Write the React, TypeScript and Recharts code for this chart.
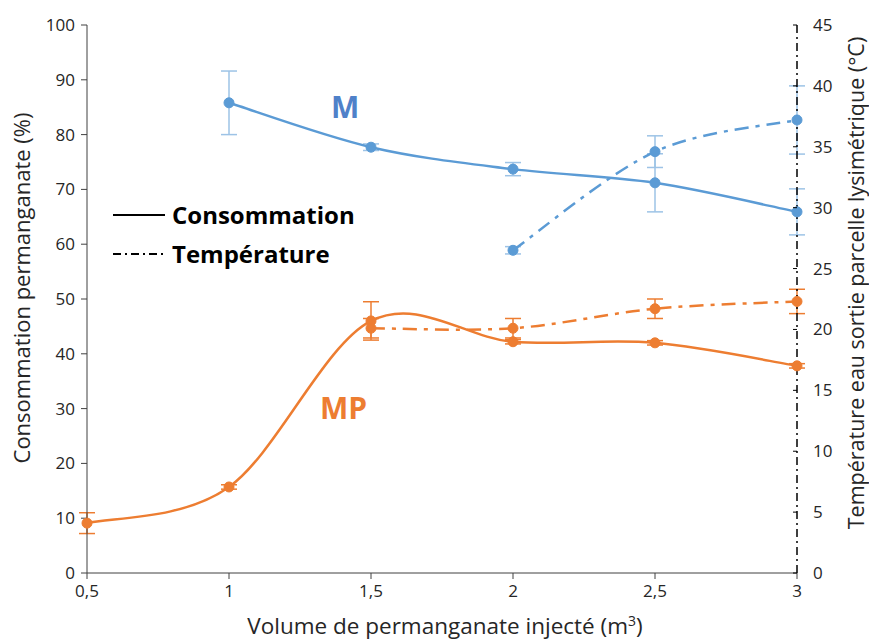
import React from 'react';
import { LineChart, Line, XAxis, YAxis, ErrorBar, Label } from 'recharts';

// Volume injecté (m3)
const volumes = [0.5, 1, 1.5, 2, 2.5, 3];

// M : consommation (%) et température (°C)
const mConso = [null, 85.8, 77.7, 73.7, 71.2, 65.9];
const mConsoErr = [null, 5.8, 0.6, 1.2, 5.3, 4.2];
const mTemp = [null, null, null, 26.5, 34.6, 37.2];
const mTempErr = [null, null, null, 0.3, 1.3, 2.8];

// MP : consommation (%) et température (°C)
const mpConso = [9.1, 15.7, 46.0, 42.2, 42.0, 37.8];
const mpConsoErr = [1.9, 0.4, 3.5, 0.4, 0.4, 0.4];
const mpTemp = [null, null, 20.1, 20.1, 21.7, 22.3];
const mpTempErr = [null, null, 0.8, 0.8, 0.8, 1.0];

const leftTicks = [0, 10, 20, 30, 40, 50, 60, 70, 80, 90, 100];
const rightTicks = [0, 5, 10, 15, 20, 25, 30, 35, 40, 45];

const BLUE = '#5B9BD5';
const BLUE_ERR = '#9DC3E6';
const ORANGE = '#ED7D31';
const FONT = '"Open Sans", "Noto Sans", sans-serif';
const TEXT = '#262626';

const data = volumes.map((v, i) => ({
  volume: v,
  mConso: mConso[i],
  mConsoErr: mConsoErr[i],
  mTemp: mTemp[i],
  mTempErr: mTempErr[i],
  mpConso: mpConso[i],
  mpConsoErr: mpConsoErr[i],
  mpTemp: mpTemp[i],
  mpTempErr: mpTempErr[i],
}));

// Excel-like smoothing (Catmull-Rom through the points)
const smoothCurve = (context: any) => {
  let pts: number[][] = [];
  return {
    areaStart() {},
    areaEnd() {},
    lineStart() {
      pts = [];
    },
    point(x: number, y: number) {
      pts.push([+x, +y]);
    },
    lineEnd() {
      const n = pts.length;
      if (!n) return;
      context.moveTo(pts[0][0], pts[0][1]);
      for (let i = 0; i < n - 1; i++) {
        const p0 = pts[i > 0 ? i - 1 : i];
        const p1 = pts[i];
        const p2 = pts[i + 1];
        const p3 = pts[i + 2 < n ? i + 2 : i + 1];
        context.bezierCurveTo(
          p1[0] + (p2[0] - p0[0]) / 6,
          p1[1] + (p2[1] - p0[1]) / 6,
          p2[0] - (p3[0] - p1[0]) / 6,
          p2[1] - (p3[1] - p1[1]) / 6,
          p2[0],
          p2[1]
        );
      }
    },
  };
};

const RightTick = (props: any) => {
  const { x, y, payload } = props;
  return (
    <g>
      <line x1={x - 20} x2={x - 16} y1={y} y2={y} stroke="#000" strokeWidth={1} />
      <text x={x} y={y} dy={6} fill={TEXT} fontSize={17} fontFamily={FONT} textAnchor="start">
        {payload.value}
      </text>
    </g>
  );
};

const vTitle = (x: number, y: number, text: string, size: number) => () =>
  (
    <text
      x={x}
      y={y}
      transform={`rotate(-90, ${x}, ${y})`}
      textAnchor="middle"
      dominantBaseline="central"
      fontSize={size}
      fill={TEXT}
      fontFamily={FONT}
    >
      {text}
    </text>
  );

export default function App() {
  return (
    <div style={{ position: 'absolute', left: 0, top: 0, width: 869, height: 643, background: '#fff' }}>
      <LineChart
        width={869}
        height={643}
        data={data}
        margin={{ top: 25, right: 0, bottom: 0, left: 0 }}
      >
        <XAxis
          dataKey="volume"
          type="number"
          domain={[0.5, 3]}
          ticks={volumes}
          height={70}
          tickSize={6}
          tickMargin={6}
          stroke="#404040"
          tick={{ fontSize: 17, fill: TEXT, fontFamily: FONT }}
          tickFormatter={(v: number) => String(v).replace('.', ',')}
        >
          <Label
            position="insideBottom"
            content={() => (
              <text x={445} y={634} textAnchor="middle" fontSize={22.5} fill={TEXT} fontFamily={FONT}>
                Volume de permanganate injecté (m
                <tspan dy={-8} fontSize={14}>3</tspan>
                <tspan dy={8}>)</tspan>
              </text>
            )}
          />
        </XAxis>
        <YAxis
          yAxisId="left"
          domain={[0, 100]}
          ticks={leftTicks}
          width={87}
          tickSize={6}
          tickMargin={6}
          stroke="#404040"
          tick={{ fontSize: 17, fill: TEXT, fontFamily: FONT }}
        >
          <Label position="insideLeft" content={vTitle(21, 288, 'Consommation permanganate (%)', 22)} />
        </YAxis>
        <YAxis
          yAxisId="right"
          orientation="right"
          domain={[0, 45]}
          ticks={rightTicks}
          width={72}
          tickSize={0}
          tickMargin={16}
          tickLine={false}
          axisLine={{ stroke: '#000', strokeWidth: 1.5, strokeDasharray: '8 4 2 4' }}
          tick={<RightTick />}
        >
          <Label
            position="insideRight"
            content={vTitle(855, 283, 'Température eau sortie parcelle lysimétrique (°C)', 21.5)}
          />
        </YAxis>

        <Line
          yAxisId="left"
          dataKey="mConso"
          type={smoothCurve as any}
          stroke={BLUE}
          strokeWidth={2.5}
          dot={{ r: 5, fill: BLUE, stroke: BLUE, strokeWidth: 1 }}
          isAnimationActive={false}
        >
          <ErrorBar dataKey="mConsoErr" direction="y" width={8} stroke={BLUE_ERR} strokeWidth={1.5} />
        </Line>
        <Line
          yAxisId="right"
          dataKey="mTemp"
          type={smoothCurve as any}
          stroke={BLUE}
          strokeWidth={2.5}
          strokeDasharray="14 7 4 7"
          dot={{ r: 5, fill: BLUE, stroke: BLUE, strokeWidth: 1, strokeDasharray: '0' }}
          isAnimationActive={false}
        >
          <ErrorBar dataKey="mTempErr" direction="y" width={8} stroke={BLUE_ERR} strokeWidth={1.5} />
        </Line>
        <Line
          yAxisId="left"
          dataKey="mpConso"
          type={smoothCurve as any}
          stroke={ORANGE}
          strokeWidth={2.5}
          dot={{ r: 5, fill: ORANGE, stroke: ORANGE, strokeWidth: 1 }}
          isAnimationActive={false}
        >
          <ErrorBar dataKey="mpConsoErr" direction="y" width={8} stroke={ORANGE} strokeWidth={1.5} />
        </Line>
        <Line
          yAxisId="right"
          dataKey="mpTemp"
          type={smoothCurve as any}
          stroke={ORANGE}
          strokeWidth={2.5}
          strokeDasharray="14 7 4 7"
          dot={{ r: 5, fill: ORANGE, stroke: ORANGE, strokeWidth: 1, strokeDasharray: '0' }}
          isAnimationActive={false}
        >
          <ErrorBar dataKey="mpTempErr" direction="y" width={8} stroke={ORANGE} strokeWidth={1.5} />
        </Line>
      </LineChart>

      {/* annotations and legend */}
      <div style={{ position: 'absolute', left: 331, top: 86, fontSize: 30, fontWeight: 700, color: '#4F81C9', fontFamily: FONT }}>
        M
      </div>
      <div style={{ position: 'absolute', left: 320, top: 387, fontSize: 30, fontWeight: 700, color: ORANGE, fontFamily: FONT }}>
        MP
      </div>
      <svg style={{ position: 'absolute', left: 100, top: 195 }} width={280} height={80}>
        <line x1={13} x2={65} y1={20} y2={20} stroke="#000" strokeWidth={2} />
        <line x1={13} x2={65} y1={59} y2={59} stroke="#000" strokeWidth={2} strokeDasharray="8 4 2 4" />
        <text x={72} y={29} fontSize={24} fontWeight={700} fill="#000" fontFamily={FONT}>
          Consommation
        </text>
        <text x={72} y={68} fontSize={24} fontWeight={700} fill="#000" fontFamily={FONT}>
          Température
        </text>
      </svg>
    </div>
  );
}
